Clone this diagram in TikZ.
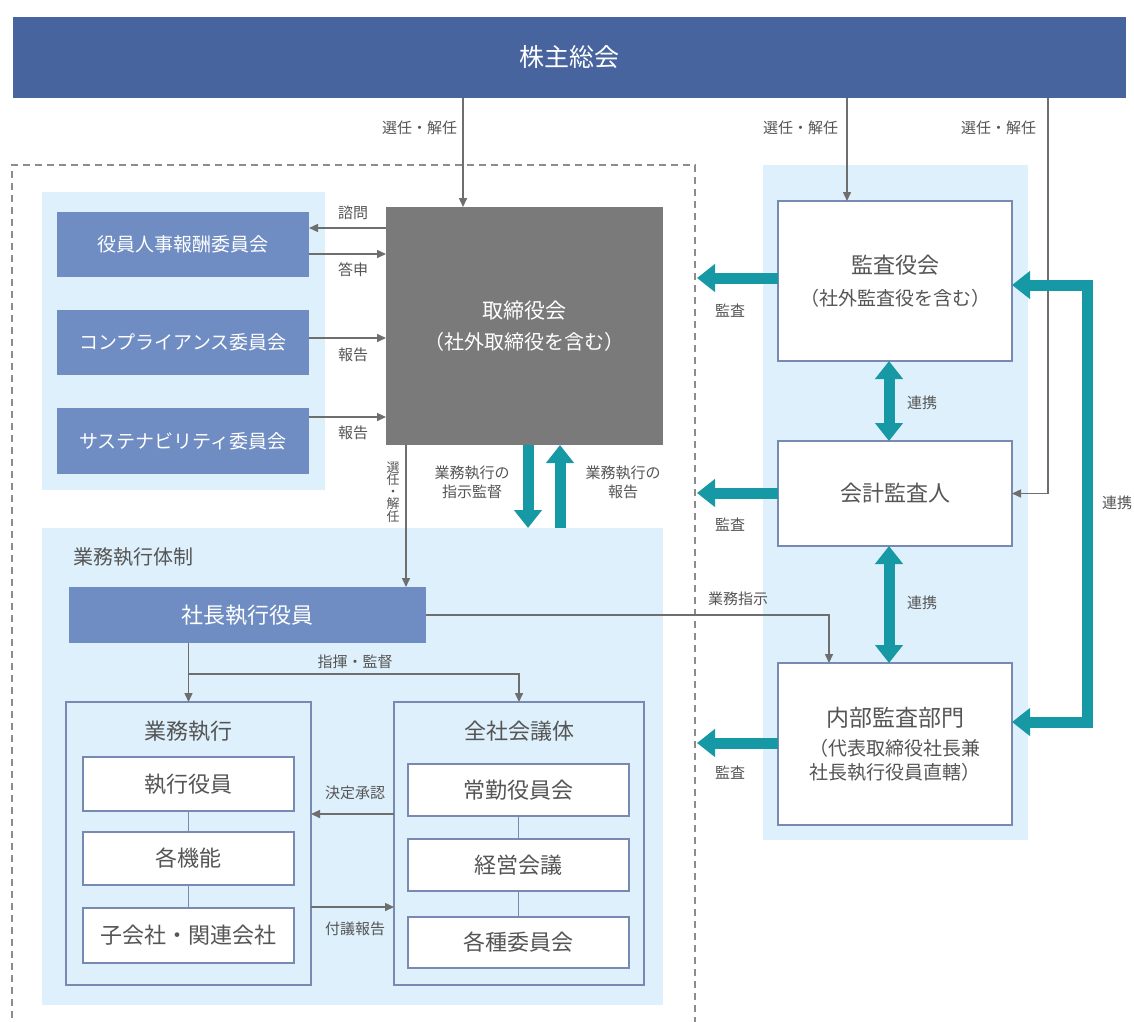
\documentclass[tikz,border=0pt]{standalone}
\usepackage{fontspec}
\setmainfont{Noto Sans CJK JP}
\usetikzlibrary{arrows.meta}
\definecolor{barblue}{RGB}{72,100,158}
\definecolor{midblue}{RGB}{111,141,194}
\definecolor{panel}{RGB}{222,240,251}
\definecolor{boardgray}{RGB}{122,122,122}
\definecolor{teal0}{RGB}{22,153,164}
\definecolor{bord}{RGB}{120,138,178}
\definecolor{cgray}{RGB}{110,110,110}
\definecolor{tgray}{RGB}{85,85,85}
\definecolor{dgray}{RGB}{140,140,140}
\begin{document}
\begin{tikzpicture}[x=1pt,y=-1pt,
  every node/.style={inner sep=0pt, outer sep=0pt},
  panelbox/.style={fill=panel, anchor=north west},
  bluebox/.style={fill=midblue, text=white, anchor=north west, font=\fontsize{19}{23}\selectfont},
  wbox/.style={fill=white, draw=bord, line width=1.8pt, text=tgray, anchor=north west, font=\fontsize{22}{26}\selectfont},
  obox/.style={fill=panel, draw=bord, line width=2pt, anchor=north west},
  lbl/.style={text=tgray, font=\fontsize{15}{19}\selectfont, align=center},
  ttl/.style={text=tgray, font=\fontsize{22}{26}\selectfont},
  conn/.style={draw=cgray, line width=1.5pt, -{Triangle[length=9pt,width=8pt]}},
  plain/.style={draw=bord, line width=1.8pt},
  tarrow/.style={draw=teal0, line width=11pt, -{Triangle[length=18pt,width=27pt]}},
  tboth/.style={draw=teal0, line width=11pt, {Triangle[length=18pt,width=27pt]}-{Triangle[length=18pt,width=27pt]}},
  dashbox/.style={draw=dgray, line width=2pt, dash pattern=on 7pt off 5pt},
]
\useasboundingbox (0,0) rectangle (1134,1021);
\fill[white] (0,0) rectangle (1134,1021);

\coordinate (dashR) at (697,0);
\coordinate (xA) at (463,0);
\coordinate (xB) at (847,0);
\coordinate (xC) at (1048,0);
\coordinate (xD) at (406,0);
\coordinate (xE) at (528,0);
\coordinate (xF) at (560,0);
\coordinate (xG) at (829,0);
\coordinate (xH) at (1087,0);
\coordinate (xI) at (889,0);

% top bar
\node[fill=barblue, text=white, anchor=north west, minimum width=1113, minimum height=81, font=\fontsize{25}{30}\selectfont] (soukai) at (13,17) {株主総会};

% dashed boundary
\draw[dashbox] (12,1030) -- (12,165) -- (695,165) -- (695,1030);

% panels
\node[panelbox, minimum width=283, minimum height=298] (pA) at (42,192) {};
\node[panelbox, minimum width=621, minimum height=477] (pB) at (42,528) {};
\node[panelbox, minimum width=265, minimum height=675] (pC) at (763,165) {};

% committees
\node[bluebox, minimum width=252, minimum height=65] (c1) at (57,212) {役員人事報酬委員会};
\node[bluebox, minimum width=252, minimum height=65] (c2) at (57,310) {コンプライアンス委員会};
\node[bluebox, minimum width=252, minimum height=66] (c3) at (57,408) {サステナビリティ委員会};

% board
\node[fill=boardgray, text=white, anchor=north west, minimum width=277, minimum height=238, align=center, font=\fontsize{20}{31}\selectfont] (board) at (386,207) {{\fontsize{21}{31}\selectfont 取締役会}\\（社外取締役を含む）};

% execution system
\node[text=tgray, font=\fontsize{20}{24}\selectfont, anchor=west] (pBT) at (73,557) {業務執行体制};
\node[bluebox, minimum width=357, minimum height=56, font=\fontsize{22}{26}\selectfont] (shacho) at (69,587) {社長執行役員};
\node[obox, minimum width=245, minimum height=283] (gyomu) at (66,702) {};
\node[obox, minimum width=250, minimum height=283] (zensha) at (394,702) {};
\node[ttl] (gyomuT) at (188.5,731) {業務執行};
\node[ttl] (zenshaT) at (519,731) {全社会議体};
\node[wbox, minimum width=211, minimum height=54] (g1) at (83,757) {執行役員};
\node[wbox, minimum width=211, minimum height=53] (g2) at (83,832) {各機能};
\node[wbox, minimum width=211, minimum height=55] (g3) at (83,908) {子会社・関連会社};
\node[wbox, minimum width=221, minimum height=52] (z1) at (408,764) {常勤役員会};
\node[wbox, minimum width=221, minimum height=52] (z2) at (408,839) {経営会議};
\node[wbox, minimum width=221, minimum height=51] (z3) at (408,917) {各種委員会};

% audit side
\node[wbox, minimum width=234, minimum height=160, align=center, font=\fontsize{19}{32}\selectfont] (kansayaku) at (778,201) {{\fontsize{22}{32}\selectfont 監査役会}\\（社外監査役を含む）};
\node[wbox, minimum width=234, minimum height=105] (kaikei) at (778,441) {会計監査人};
\node[wbox, minimum width=234, minimum height=162, align=center, font=\fontsize{19}{24}\selectfont] (naibu) at (778,663) {{\fontsize{23}{24}\selectfont 内部監査部門}\\[5pt]（代表取締役社長兼\\社長執行役員直轄）};

% connectors
\draw[conn] (soukai.south -| xA) -- (board.north -| xA);
\draw[conn] (soukai.south -| xB) -- (kansayaku.north -| xB);
\draw[conn] (soukai.south -| xC) |- (kaikei.east);
\draw[conn] (board.west |- 0,228) -- (c1.east |- 0,228);
\draw[conn] (c1.east |- 0,254) -- (board.west |- 0,254);
\draw[conn] (c2.east |- 0,338) -- (board.west |- 0,338);
\draw[conn] (c3.east |- 0,417) -- (board.west |- 0,417);
\draw[conn] (board.south -| xD) -- (shacho.north -| xD);
\draw[tarrow] (board.south -| xE) -- (pB.north -| xE);
\draw[tarrow] (pB.north -| xF) -- (board.south -| xF);
\draw[tarrow] (kansayaku.west |- 0,278) -- (dashR |- 0,278);
\draw[tarrow] (kaikei.west |- 0,493) -- (dashR |- 0,493);
\draw[tarrow] (naibu.west |- 0,743) -- (dashR |- 0,743);
\draw[tboth] (kansayaku.south -| xI) -- (kaikei.north -| xI);
\draw[tboth] (kaikei.south -| xI) -- (naibu.north -| xI);
\draw[tboth, line join=miter] (kansayaku.east |- 0,285) -- (xH |- 0,285) -- (xH |- 0,722) -- (naibu.east |- 0,722);
\draw[conn] (shacho.east) -| (naibu.north -| xG);
\draw[conn] (gyomu.north |- shacho.south) -- (gyomu.north);
\draw[conn] (gyomu.north |- 0,674) -| (zensha.north);
\draw[conn] (zensha.west |- 0,814) -- (gyomu.east |- 0,814);
\draw[conn] (gyomu.east |- 0,907) -- (zensha.west |- 0,907);
\draw[plain] (g1) -- (g2);
\draw[plain] (g2) -- (g3);
\draw[plain] (z1) -- (z2);
\draw[plain] (z2) -- (z3);

% labels
\node[lbl, anchor=east] (la1) at (457,128) {選任・解任};
\node[lbl, anchor=east] (la2) at (838,128) {選任・解任};
\node[lbl, anchor=east] (la3) at (1036,128) {選任・解任};
\node[lbl] (lb1) at (353,213) {諮問};
\node[lbl] (lb2) at (353,270) {答申};
\node[lbl] (lb3) at (353,355) {報告};
\node[lbl] (lb4) at (353,433) {報告};
\node[lbl, font=\fontsize{13}{11.8}\selectfont] (lv) at (393,492) {選\\任\\・\\解\\任};
\node[lbl] (lc1) at (472,482) {業務執行の\\指示監督};
\node[lbl] (lc2) at (623,482) {業務執行の\\報告};
\node[lbl] (ld1) at (730,311) {監査};
\node[lbl] (ld2) at (730,525) {監査};
\node[lbl] (ld3) at (730,773) {監査};
\node[lbl] (le1) at (922,403) {連携};
\node[lbl] (le2) at (922,603) {連携};
\node[lbl, anchor=west] (le3) at (1102,503) {連携};
\node[lbl] (lf) at (738,599) {業務指示};
\node[lbl] (lg) at (355,662) {指揮・監督};
\node[lbl] (lh1) at (355,793) {決定承認};
\node[lbl] (lh2) at (355,929) {付議報告};
\end{tikzpicture}
\end{document}
